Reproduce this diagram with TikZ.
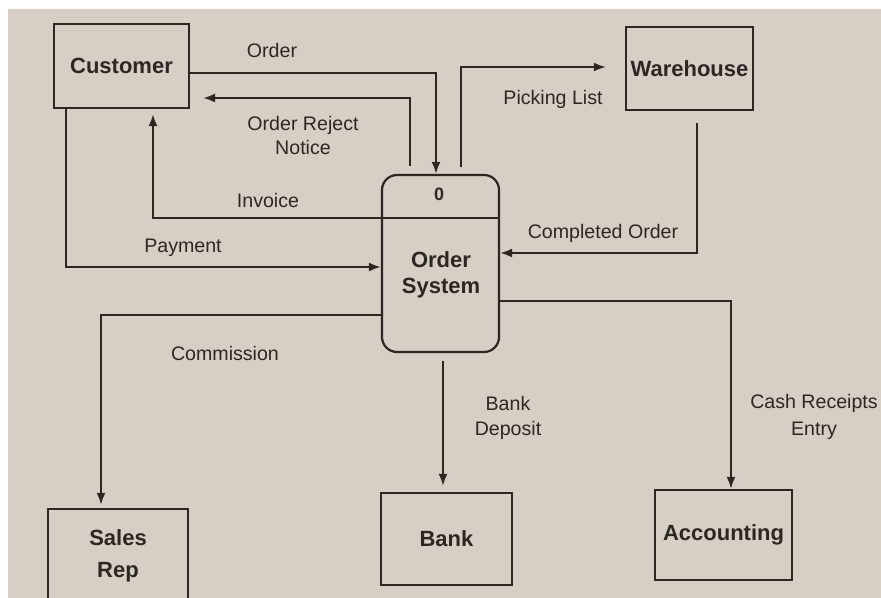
\documentclass[tikz,border=0pt]{standalone}
\usepackage{fontspec}
\setmainfont{Liberation Sans}
\usetikzlibrary{arrows.meta}
\definecolor{paper}{RGB}{215,207,198}
\definecolor{ink}{RGB}{45,39,35}
\begin{document}
\begin{tikzpicture}[x=0.5pt,y=-0.5pt,
  entity/.style={draw=ink, line width=1.1pt, inner sep=0pt, text=ink,
    font=\bfseries\fontsize{11}{16}\selectfont, align=center},
  flow/.style={draw=ink, line width=1.1pt, -{Latex[length=6pt,width=4.5pt]}},
  lbl/.style={text=ink, font=\fontsize{9.8}{12.5}\selectfont, align=center, inner sep=0pt}]
% background / page
\fill[white] (0,0) rectangle (881,598);
\fill[paper] (8,9) rectangle (881,598);
\useasboundingbox (0,0) rectangle (881,598);
% entities
\node[entity, minimum width=67.5pt, minimum height=42pt] (cust) at (121.5,66) {Customer};
\node[entity, minimum width=63.5pt, minimum height=41.5pt] (wh) at (689.5,68.5) {Warehouse};
\node[entity, minimum width=58.5pt, minimum height=88.5pt, rounded corners=7.5pt] (proc) at (440.5,263.5) {};
\node[text=ink, font=\bfseries\fontsize{9}{10}\selectfont, inner sep=0pt] (pid) at (439,194) {0};
\node[text=ink, font=\bfseries\fontsize{11}{13}\selectfont, align=center, inner sep=0pt] (pname) at (441,275) {Order\\System};
\node[entity, minimum width=70pt, minimum height=46.5pt] (sales) at (118,555.5) {Sales\\Rep};
\node[entity, minimum width=65.5pt, minimum height=46pt] (bank) at (446.5,539) {Bank};
\node[entity, minimum width=68.5pt, minimum height=45pt] (acc) at (723.5,535) {Accounting};
% divider in process
\draw[ink, line width=1.1pt] (proc.west |- 0,218) -- (proc.east |- 0,218);
% flows
\draw[flow] (cust.east |- 0,73) -| (proc.north -| 436,0);
\draw[flow, shorten >=6.5pt] ([yshift=4pt]proc.north -| 410,0) |- (cust.east |- 0,98);
\draw[flow, shorten >=2.5pt] (proc.west |- 0,218) -| (cust.south -| 153,0);
\draw[flow] (cust.south -| 66,0) |- (proc.west |- 0,267);
\draw[flow, shorten >=9.5pt] ([yshift=3.5pt]proc.north -| 461,0) |- (wh.west |- 0,67);
\draw[flow] ([yshift=-6pt]wh.south -| 697,0) |- (proc.east |- 0,253);
\draw[flow, shorten >=1.5pt] (proc.west |- 0,315) -| (sales.north -| 101,0);
\draw[flow, shorten >=3pt] ([yshift=-4pt]proc.south -| 443,0) -- (bank.north -| 443,0);
\draw[flow] (proc.east |- 0,301) -| (acc.north -| 731,0);
% labels
\node[lbl] (lorder) at (272,50) {Order};
\node[lbl, font=\fontsize{9.8}{12}\selectfont] (lreject) at (303,135) {Order Reject\\Notice};
\node[lbl] (linv) at (268,200) {Invoice};
\node[lbl] (lpay) at (183,248) {Payment};
\node[lbl] (lpick) at (553,99) {Picking List};
\node[lbl] (lcomp) at (603,233) {Completed Order};
\node[lbl] (lcomm) at (225,353) {Commission};
\node[lbl] (ldep) at (508,418) {Bank\\Deposit};
\node[lbl, font=\fontsize{9.8}{13.5}\selectfont] (lcash) at (814,417) {Cash Receipts\\Entry};
\end{tikzpicture}
\end{document}
